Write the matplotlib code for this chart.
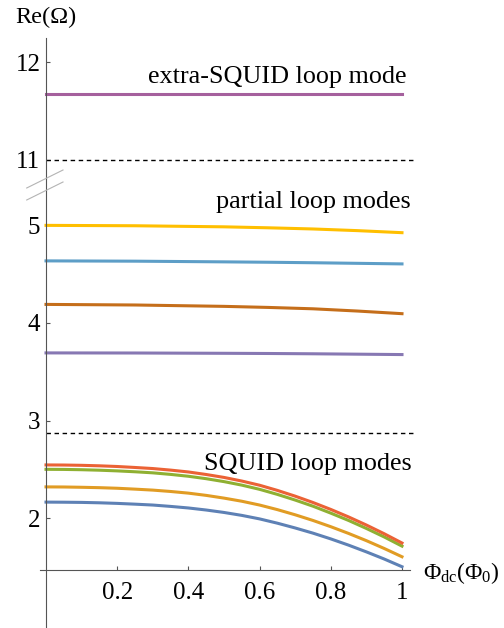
import matplotlib
matplotlib.use('Agg')
import matplotlib.pyplot as plt
import numpy as np
from matplotlib.lines import Line2D

plt.rcParams['font.family'] = ['Liberation Serif', 'DejaVu Serif']
plt.rcParams['mathtext.fontset'] = 'custom'
plt.rcParams['mathtext.rm'] = 'Liberation Serif'
plt.rcParams['mathtext.it'] = 'Liberation Serif:italic'

# flux bias (units of Phi_0)
phi = [0.0, 0.05, 0.1, 0.15, 0.2, 0.25, 0.3, 0.35, 0.4, 0.45, 0.5,
       0.55, 0.6, 0.65, 0.7, 0.75, 0.8, 0.85, 0.9, 0.95, 1.0]

# SQUID loop modes
squid_blue = [2.164, 2.163, 2.161, 2.157, 2.151, 2.143, 2.134, 2.120, 2.104, 2.083, 2.058,
              2.028, 1.992, 1.948, 1.899, 1.846, 1.787, 1.723, 1.654, 1.581, 1.502]
squid_orange = [2.320, 2.319, 2.316, 2.312, 2.306, 2.297, 2.287, 2.273, 2.256, 2.233, 2.205,
                2.173, 2.134, 2.087, 2.034, 1.976, 1.912, 1.843, 1.769, 1.689, 1.604]
squid_green = [2.500, 2.499, 2.496, 2.491, 2.484, 2.475, 2.464, 2.448, 2.429, 2.404, 2.374,
               2.338, 2.295, 2.243, 2.185, 2.122, 2.051, 1.976, 1.894, 1.807, 1.713]
squid_red = [2.545, 2.544, 2.541, 2.536, 2.529, 2.519, 2.508, 2.492, 2.473, 2.447, 2.417,
             2.380, 2.337, 2.284, 2.225, 2.160, 2.089, 2.012, 1.929, 1.840, 1.745]

# partial loop modes
phi_p = [0.0, 0.25, 0.5, 0.625, 0.75, 0.875, 1.0]
partial_purple = [3.693, 3.692, 3.689, 3.687, 3.684, 3.680, 3.676]
partial_brown = [4.190, 4.184, 4.170, 4.159, 4.145, 4.122, 4.095]
partial_lblue = [4.636, 4.633, 4.626, 4.622, 4.617, 4.611, 4.605]
partial_yellow = [5.000, 4.996, 4.985, 4.975, 4.963, 4.946, 4.925]

# extra-SQUID loop mode
phi_e = [0.0, 1.0]
extra_mode = [11.68, 11.68]

# separators between the mode families
sep_low = 2.87
sep_high = 11.0

yticks = [2, 3, 4, 5, 11, 12]
xticks = [0.2, 0.4, 0.6, 0.8, 1.0]
xticklabels = ['0.2', '0.4', '0.6', '0.8', '1']

# broken y axis: squeeze the empty band between 5.35 and 10.71
brk_in = [-100.0, 5.35, 10.71, 100.0]
brk_out = [-100.0, 5.35, 5.38, 100.0 - 5.33]


def fwd(y):
    return np.interp(y, brk_in, brk_out)


def inv(y):
    return np.interp(y, brk_out, brk_in)


W, H = 504, 628
fig = plt.figure(figsize=(W / 100, H / 100), dpi=100)
ax = fig.add_axes([40 / W, 0.0, 370 / W, 590 / H])
ax.set_yscale('function', functions=(fwd, inv))
ax.set_xlim(-6 / 355.6, 1 + 8 / 355.6)
ax.set_ylim(0.874, 12.25)

lw = 2.2
ax.plot(phi, squid_blue, color='#5E81B5', lw=lw)
ax.plot(phi, squid_orange, color='#E19C24', lw=lw)
ax.plot(phi, squid_green, color='#8FB032', lw=lw)
ax.plot(phi, squid_red, color='#EB6235', lw=lw)

ax.plot(phi_p, partial_purple, color='#8778B3', lw=lw)
ax.plot(phi_p, partial_brown, color='#C56E1A', lw=lw)
ax.plot(phi_p, partial_lblue, color='#5D9EC7', lw=lw)
ax.plot(phi_p, partial_yellow, color='#FFBF00', lw=lw)

ax.plot(phi_e, extra_mode, color='#A5609D', lw=lw)

for yv in (sep_low, sep_high):
    ax.plot([0, 1.035], [yv, yv], color='black', lw=1.0, dashes=(3.2, 2.6),
            clip_on=False)

# Mathematica-style axes through the origin
for s in ('top', 'right'):
    ax.spines[s].set_visible(False)
ax.spines['left'].set_position(('data', 0))
ax.spines['bottom'].set_position(('data', 1.47))
for s in ('left', 'bottom'):
    ax.spines[s].set_color('#555555')
    ax.spines[s].set_linewidth(0.8)

ax.set_yticks(yticks)
ax.set_yticklabels([str(t) for t in yticks])
ax.set_xticks(xticks)
ax.set_xticklabels(xticklabels)
ax.minorticks_off()
ax.tick_params(axis='y', direction='in', length=3, width=0.8, color='#555555',
               labelsize=18, pad=4)
ax.tick_params(axis='x', direction='in', length=3, width=0.8, color='#555555',
               labelsize=18, pad=9)

# axis break marks
for dy in (0, 12):
    fig.add_artist(Line2D([26.7 / W, 63 / W], [1 - (188 + dy) / H, 1 - (170 + dy) / H],
                          color='#b4b4b4', lw=0.8))

fig.text(15 / W, 1 - 23 / H, 'Re(Ω)', fontsize=17.5, va='baseline', ha='left')
fig.text(423 / W, 1 - 579 / H, r'$\Phi_{\rm dc}(\Phi_0)$', fontsize=17,
         va='baseline', ha='left')

fig.text(407 / W, 1 - 83 / H, 'extra-SQUID loop mode', fontsize=18.8,
         va='baseline', ha='right')
fig.text(411 / W, 1 - 208 / H, 'partial loop modes', fontsize=18.8,
         va='baseline', ha='right')
fig.text(412 / W, 1 - 470 / H, 'SQUID loop modes', fontsize=18.8,
         va='baseline', ha='right')

fig.savefig('out.png', dpi=100)
